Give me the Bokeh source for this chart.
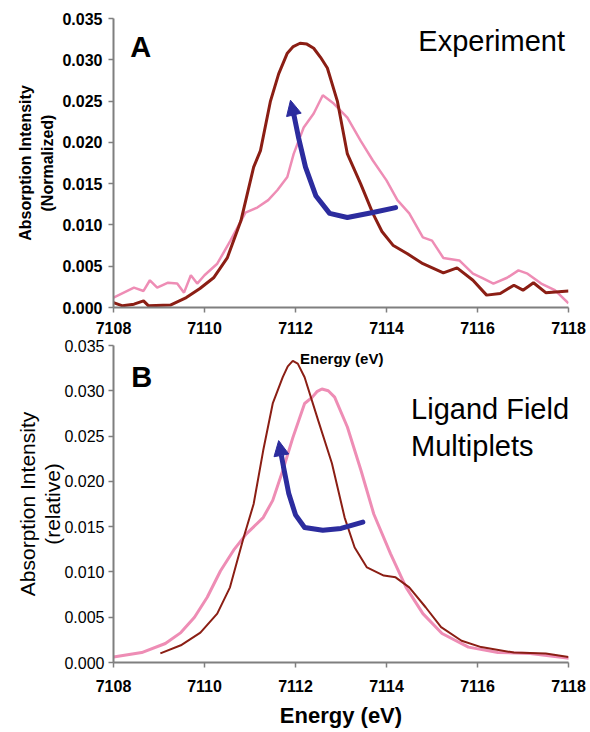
from bokeh.plotting import figure
from bokeh.layouts import column
from bokeh.models import (Range1d, FixedTicker, NumeralTickFormatter, Label, Arrow, NormalHead,
                          LinearAxis)
from bokeh.embed import file_html
from bokeh.resources import INLINE

# ---------------- data ----------------
x_ticks = [7108, 7110, 7112, 7114, 7116, 7118]
y_ticks = [0.0, 0.005, 0.010, 0.015, 0.020, 0.025, 0.030, 0.035]

# Panel A (experiment)
expA_brown_x = [7108.0, 7108.2, 7108.45, 7108.66, 7108.77, 7109.25, 7109.6, 7109.9, 7110.2, 7110.5,
                7110.8, 7111.08, 7111.23, 7111.45, 7111.63, 7111.82, 7111.95, 7112.1, 7112.25, 7112.4,
                7112.55, 7112.7, 7112.92, 7113.14, 7113.43, 7113.7, 7113.9, 7114.15, 7114.46, 7114.8,
                7115.25, 7115.55, 7115.9, 7116.2, 7116.5, 7116.8, 7117.0, 7117.23, 7117.5, 7118.0]
expA_brown_y = [0.0006, 0.0002, 0.0004, 0.0008, 0.0002, 0.0003, 0.0012, 0.0023, 0.0036, 0.0060,
                0.0105, 0.0170, 0.0190, 0.0250, 0.0283, 0.0308, 0.0316, 0.0320, 0.0319, 0.0314,
                0.0303, 0.0290, 0.0250, 0.0186, 0.0150, 0.0114, 0.0092, 0.0075, 0.0065, 0.0053,
                0.0042, 0.0048, 0.0033, 0.0015, 0.0017, 0.0027, 0.0021, 0.0030, 0.0018, 0.0020]

expA_pink_x = [7108.0, 7108.45, 7108.66, 7108.8, 7108.96, 7109.2, 7109.4, 7109.55, 7109.7, 7109.84,
               7110.0, 7110.28, 7110.57, 7110.9, 7111.16, 7111.4, 7111.6, 7111.82, 7111.96, 7112.18,
               7112.4, 7112.6, 7112.84, 7113.14, 7113.43, 7113.7, 7114.0, 7114.24, 7114.5, 7114.8,
               7115.0, 7115.25, 7115.6, 7115.9, 7116.1, 7116.35, 7116.65, 7116.9, 7117.1, 7117.4,
               7117.7, 7118.0]
expA_pink_y = [0.0012, 0.0024, 0.0020, 0.0033, 0.0024, 0.0030, 0.0029, 0.0018, 0.0039, 0.0029,
               0.0039, 0.0053, 0.0081, 0.0115, 0.0121, 0.0130, 0.0142, 0.0158, 0.0186, 0.0218,
               0.0235, 0.0257, 0.0247, 0.0230, 0.0202, 0.0178, 0.0154, 0.0130, 0.0114, 0.0085,
               0.0081, 0.0060, 0.0057, 0.0041, 0.0036, 0.0029, 0.0036, 0.0045, 0.0041, 0.0029,
               0.0021, 0.0005]

arrowA_x = [7114.2, 7113.7, 7113.14, 7112.75, 7112.45, 7112.22, 7112.07, 7111.97]
arrowA_y = [0.0121, 0.0115, 0.0109, 0.0114, 0.0135, 0.0170, 0.0205, 0.0232]
arrowA_tip = (7111.89, 0.0251)

# Panel B (ligand field multiplets)
lfmB_brown_x = [7109.03, 7109.48, 7109.91, 7110.28, 7110.56, 7110.86, 7111.08, 7111.29, 7111.5, 7111.72,
                7111.83, 7111.94, 7112.05, 7112.2, 7112.5, 7112.8, 7113.08, 7113.3, 7113.57, 7113.94,
                7114.2, 7114.5, 7114.86, 7115.2, 7115.65, 7116.08, 7116.8, 7117.5, 7118.0]
lfmB_brown_y = [0.0010, 0.0019, 0.0033, 0.0054, 0.0083, 0.0138, 0.0175, 0.0234, 0.0286, 0.0315,
                0.0327, 0.0333, 0.0330, 0.0315, 0.0267, 0.0220, 0.0160, 0.0127, 0.0105, 0.0096,
                0.0094, 0.0083, 0.0061, 0.0039, 0.0024, 0.0017, 0.0011, 0.0010, 0.0006]

lfmB_pink_x = [7108.0, 7108.62, 7109.14, 7109.48, 7109.78, 7110.06, 7110.35, 7110.64, 7110.92, 7111.29,
               7111.5, 7111.72, 7111.94, 7112.2, 7112.37, 7112.47, 7112.58, 7112.72, 7112.86, 7113.14,
               7113.44, 7113.72, 7114.09, 7114.43, 7114.8, 7115.22, 7115.8, 7116.45, 7117.16, 7118.1]
lfmB_pink_y = [0.0006, 0.0011, 0.0021, 0.0033, 0.0050, 0.0072, 0.0101, 0.0124, 0.0142, 0.0160,
               0.0179, 0.0212, 0.0248, 0.0286, 0.0293, 0.0299, 0.0302, 0.0300, 0.0293, 0.0260,
               0.0212, 0.0164, 0.0120, 0.0083, 0.0054, 0.0032, 0.0017, 0.0011, 0.0010, 0.0004]

arrowB_x = [7113.48, 7113.0, 7112.6, 7112.2, 7112.0, 7111.85, 7111.74]
arrowB_y = [0.0155, 0.0148, 0.0146, 0.0149, 0.0163, 0.0187, 0.0215]
arrowB_tip = (7111.63, 0.0245)

BROWN = "#8B1E14"
PINK = "#EE8DB5"
BLUE = "#2C2C9E"
GRAY = "#7F7F7F"
FONT = "Liberation Sans"


def make_fig(height, left, right, top, bottom, ybold):
    p = figure(width=590, height=height, output_backend="svg", toolbar_location=None,
               x_range=Range1d(7108, 7118), y_range=Range1d(0, 0.035),
               min_border_left=left, min_border_right=right, min_border_top=top,
               min_border_bottom=bottom)
    p.xgrid.visible = False
    p.ygrid.visible = False
    p.outline_line_color = None
    p.background_fill_color = "white"
    p.border_fill_color = "white"
    for ax in (p.xaxis[0], p.yaxis[0]):
        ax.axis_line_color = GRAY
        ax.axis_line_width = 2
        ax.major_tick_line_color = GRAY
        ax.major_tick_line_width = 1.5
        ax.major_tick_out = 5
        ax.major_tick_in = 0
        ax.minor_tick_line_color = None
        ax.major_label_text_font = FONT
        ax.major_label_text_font_size = "16px"
        ax.major_label_text_color = "black"
        ax.axis_label_text_font = FONT
        ax.axis_label_text_color = "black"
    p.xaxis[0].ticker = FixedTicker(ticks=x_ticks)
    p.yaxis[0].ticker = FixedTicker(ticks=y_ticks)
    p.yaxis[0].formatter = NumeralTickFormatter(format="0.000")
    p.xaxis[0].major_label_text_font_style = "bold"
    p.yaxis[0].major_label_text_font_style = "bold" if ybold else "normal"
    return p


def outer_label_axis(p, text, size, bold, standoff):
    ax = LinearAxis(ticker=FixedTicker(ticks=[]), axis_line_color=None,
                    major_tick_line_color=None, minor_tick_line_color=None,
                    major_tick_out=0, major_tick_in=0, minor_tick_out=0, minor_tick_in=0,
                    major_label_standoff=0, axis_label=text, axis_label_standoff=standoff,
                    axis_label_text_font=FONT, axis_label_text_font_size=size,
                    axis_label_text_font_style="bold" if bold else "normal",
                    axis_label_text_color="black")
    p.add_layout(ax, "left")


def arrow(p, xs, ys, tip):
    p.line(xs, ys, line_width=5, color=BLUE, line_cap="round", line_join="round")
    p.add_layout(Arrow(end=NormalHead(size=15, fill_color=BLUE, line_color=BLUE, line_width=1),
                       x_start=xs[-1], y_start=ys[-1], x_end=tip[0], y_end=tip[1],
                       line_color=BLUE, line_width=5))


def txt(p, x, y, text, size, bold=False, baseline="alphabetic"):
    p.add_layout(Label(x=x, y=y, text=text, text_font=FONT, text_font_size=size,
                       text_font_style="bold" if bold else "normal",
                       text_align="left", text_baseline=baseline, text_color="black"))


# ---------------- panel A ----------------
pA = make_fig(338, 113, 22, 18, 31, True)
pA.xaxis[0].major_label_standoff = 9
pA.yaxis[0].major_label_standoff = 6
pA.yaxis[0].axis_label = "(Normalized)"
pA.yaxis[0].axis_label_text_font_size = "16px"
pA.yaxis[0].axis_label_text_font_style = "bold"
pA.yaxis[0].axis_label_standoff = 3
outer_label_axis(pA, "Absorption Intensity", "16px", True, 3)
pA.line(expA_pink_x, expA_pink_y, color=PINK, line_width=2.5)
pA.line(expA_brown_x, expA_brown_y, color=BROWN, line_width=3)
arrow(pA, arrowA_x, arrowA_y, arrowA_tip)
txt(pA, 7108.37, 0.0315, "A", "29px", bold=True)
txt(pA, 7114.70, 0.0323, "Experiment", "29px")

# ---------------- panel B ----------------
pB = make_fig(394, 104, 21, 7, 70, False)
pB.xaxis[0].major_label_standoff = 12
pB.yaxis[0].major_label_standoff = 4
pB.yaxis[0].axis_label = "(relative)"
pB.yaxis[0].axis_label_text_font_size = "21px"
pB.yaxis[0].axis_label_text_font_style = "normal"
pB.yaxis[0].axis_label_standoff = -3
outer_label_axis(pB, "Absorption Intensity", "21px", False, 0)
pB.xaxis[0].axis_label = "Energy (eV)"
pB.xaxis[0].axis_label_text_font_size = "22px"
pB.xaxis[0].axis_label_text_font_style = "bold"
pB.xaxis[0].axis_label_standoff = 8
pB.line(lfmB_pink_x, lfmB_pink_y, color=PINK, line_width=3)
pB.line(lfmB_brown_x, lfmB_brown_y, color=BROWN, line_width=2)
arrow(pB, arrowB_x, arrowB_y, arrowB_tip)
txt(pB, 7108.39, 0.0315, "B", "29px", bold=True)
txt(pB, 7112.1, 0.0336, "Energy (eV)", "15px", bold=True, baseline="middle")
txt(pB, 7114.54, 0.0280, "Ligand Field", "29px")
txt(pB, 7114.54, 0.0239, "Multiplets", "29px")

layout = column(pA, pB, spacing=0)
open("out.html", "w").write(file_html(layout, INLINE))
